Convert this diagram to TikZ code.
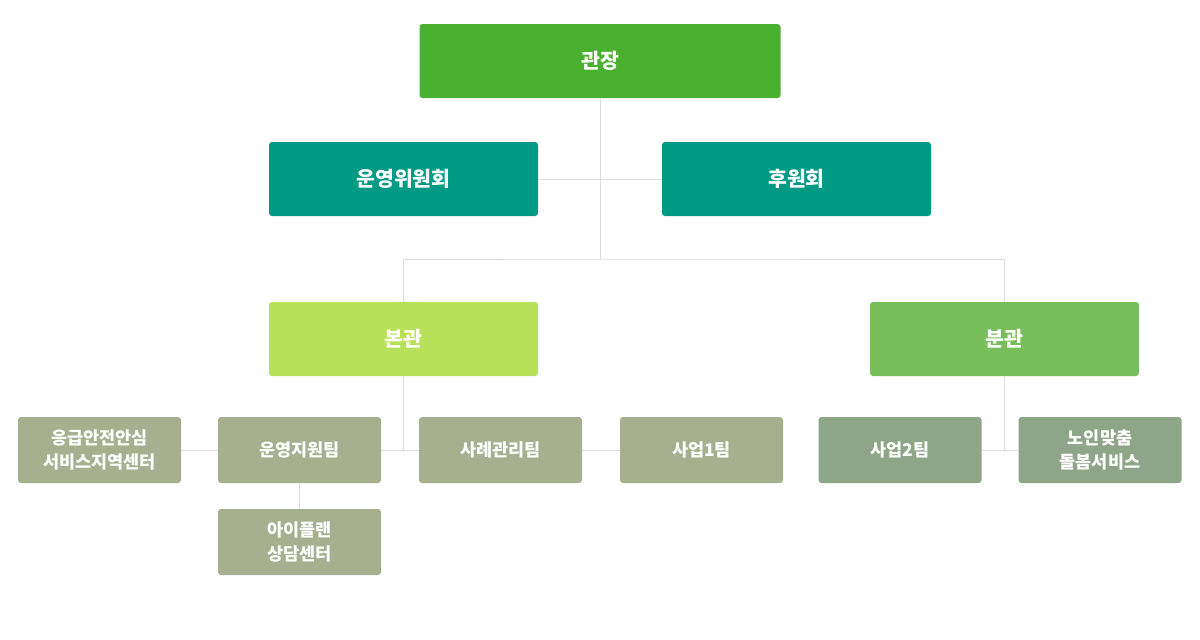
\documentclass[tikz,border=0pt]{standalone}
\usepackage{fontspec}
\newfontfamily\kr{Noto Sans CJK KR}
\usetikzlibrary{positioning}
\definecolor{headgreen}{HTML}{4AB030}
\definecolor{teal}{HTML}{009A85}
\definecolor{maingreen}{HTML}{B8E15A}
\definecolor{subgreen}{HTML}{78BE5A}
\definecolor{olive}{HTML}{A6AF8E}
\definecolor{sage}{HTML}{8FA587}
\definecolor{linegray}{HTML}{DDDDDD}
\tikzset{
  box/.style={rounded corners=3pt,text=white,align=center,inner sep=0pt,
    font=\kr\bfseries\fontsize{20.5}{24}\selectfont},
  bigbox/.style={box,minimum width=269pt,minimum height=74pt},
  team/.style={box,fill=olive,minimum width=163pt,minimum height=66pt,
    font=\kr\bfseries\fontsize{17.5}{24}\selectfont},
  link/.style={draw=linegray,line width=1pt}
}
\begin{document}
\begin{tikzpicture}[x=1pt,y=-1pt]
  \useasboundingbox (0,0) rectangle (1200,640);
  \node[box,fill=headgreen,minimum width=361pt,minimum height=74pt] (head) at (600,61) {관장};
  \node[bigbox,fill=teal] (board) at (403.5,179) {운영위원회};
  \node[bigbox,fill=teal] (support) at (796.5,179) {후원회};
  \coordinate (jtop) at (600,259);
  \node[bigbox,fill=maingreen] (main) at (403.5,339) {본관};
  \node[bigbox,fill=subgreen] (branch) at (1004.5,339) {분관};
  % teams
  \node[team] (emerg) at (99.5,450) {응급안전안심\\서비스지역센터};
  \node[team] (ops) at (299.5,450) {운영지원팀};
  \node[team] (case) at (500.5,450) {사례관리팀};
  \node[team] (biz1) at (701.5,450) {사업1팀};
  \node[team,fill=sage] (biz2) at (900,450) {사업2팀};
  \node[team,fill=sage] (care) at (1100,450) {노인맞춤\\돌봄서비스};
  \node[team] (plan) at (299.5,542) {아이플랜\\상담센터};
  % connectors
  \draw[link] (head.south) -- (jtop);
  \draw[link] (board.east) -- (support.west);
  \draw[link] (main.north) |- (jtop) -| (branch.north);
  \draw[link] (emerg.east) -- (ops.west);
  \draw[link] (ops.east) -- (case.west);
  \draw[link] (case.east) -- (biz1.west);
  \draw[link] (main.south) -- (main.south |- case.west);
  \draw[link] (ops.south) -- (plan.north);
  \draw[link] (biz2.east) -- (care.west);
  \draw[link] (branch.south) -- (branch.south |- care.west);
\end{tikzpicture}
\end{document}
